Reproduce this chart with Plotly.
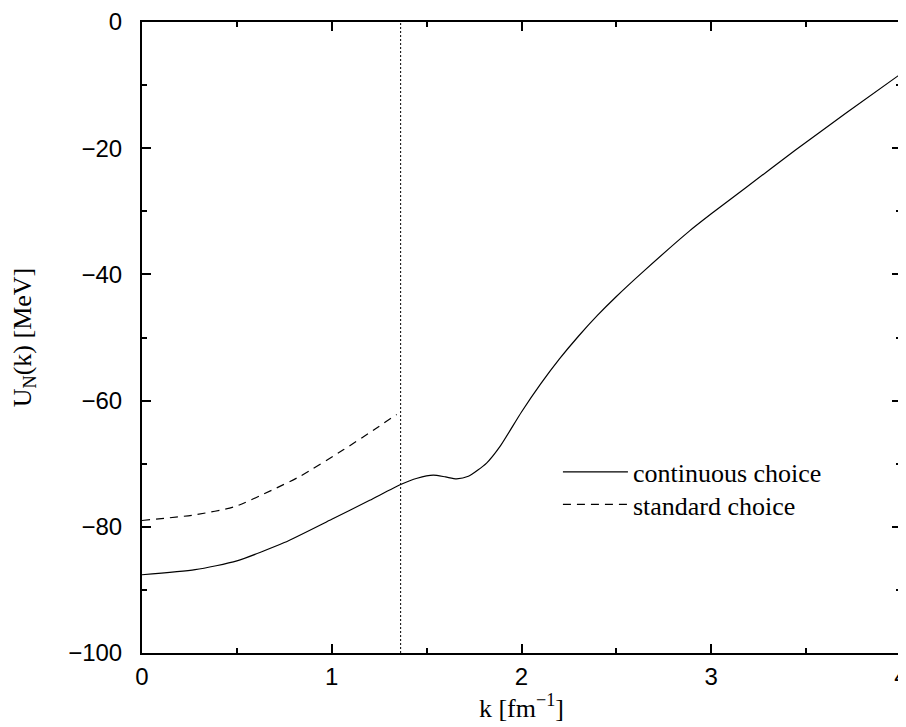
import plotly.graph_objects as go

# continuous choice
k_cont = [0.0, 0.28, 0.5, 0.75, 1.0, 1.2, 1.363, 1.45, 1.535, 1.6, 1.658,
          1.72, 1.816, 1.886, 2.0, 2.1, 2.2, 2.3, 2.4, 2.5, 2.64, 2.886, 3.0, 3.18,
          3.444, 3.707, 4.0]
u_cont = [-87.6, -86.8, -85.4, -82.5, -78.8, -75.8, -73.3, -72.3, -71.8, -72.1, -72.4,
          -72.0, -69.9, -67.3, -61.8, -57.4, -53.4, -49.8, -46.5, -43.5, -39.6, -33.1, -30.4, -26.3,
          -20.3, -14.5, -8.2]

# standard choice
k_std = [0.0, 0.28, 0.49, 0.684, 0.833, 1.061, 1.219, 1.342]
u_std = [-79.0, -78.1, -76.8, -74.2, -72.0, -67.8, -64.7, -62.2]

# Fermi momentum marker
k_fermi = 1.363
y_range = [-100, 0]

x_ticks = [0, 1, 2, 3, 4]
y_ticks = [0, -20, -40, -60, -80, -100]

SERIF = "Liberation Serif, Times New Roman, serif"
SANS = "Liberation Sans, Arial, sans-serif"

fig = go.Figure()
fig.add_trace(go.Scatter(x=k_cont, y=u_cont, mode="lines", name="continuous choice",
                         legend="legend",
                         line=dict(color="black", width=1.2, shape="spline", smoothing=0.6)))
fig.add_trace(go.Scatter(x=k_std, y=u_std, mode="lines", name="standard choice",
                         legend="legend2",
                         line=dict(color="black", width=1.2, dash="8px,6px", shape="spline",
                                   smoothing=0.6)))
fig.add_trace(go.Scatter(x=[k_fermi, k_fermi], y=y_range, mode="lines", showlegend=False,
                         line=dict(color="black", width=1, dash="2px,2px")))

axis_common = dict(
    showline=True, linecolor="black", linewidth=2, mirror="ticks",
    ticks="inside", ticklen=9, tickwidth=1.5, tickcolor="black",
    showgrid=False, zeroline=False, automargin=False, ticklabeloverflow="allow",
    tickfont=dict(family=SANS, size=24, color="black"),
)

legend_common = dict(xanchor="left", yanchor="top",
                     font=dict(family=SERIF, size=26, color="black"),
                     bgcolor="rgba(0,0,0,0)", itemwidth=65)

# page body has an 8px margin; figure is sized to fit the 906x727 window
fig.update_layout(
    width=898, height=719,
    margin=dict(l=133.5, r=4.5, t=14, b=74),
    plot_bgcolor="white", paper_bgcolor="white",
    showlegend=True,
    legend=dict(x=0.548, y=0.324, **legend_common),
    legend2=dict(x=0.548, y=0.2726, **legend_common),
    xaxis=dict(range=[0, 4], tickvals=x_ticks, ticklabelstandoff=1,
               minor=dict(dtick=0.5, ticklen=5, tickwidth=1.5, tickcolor="black", ticks="inside"),
               title=dict(text="k [fm<sup>−1</sup>]", standoff=5,
                          font=dict(family=SERIF, size=26, color="black")),
               **axis_common),
    yaxis=dict(range=y_range, tickvals=y_ticks, ticklabelstandoff=13,
               minor=dict(dtick=10, ticklen=5, tickwidth=1.5, tickcolor="black", ticks="inside"),
               title=dict(text="U<sub>N</sub>(k) [MeV]", standoff=29,
                          font=dict(family=SERIF, size=26, color="black")),
               **axis_common),
)

fig.write_html("out.html")
